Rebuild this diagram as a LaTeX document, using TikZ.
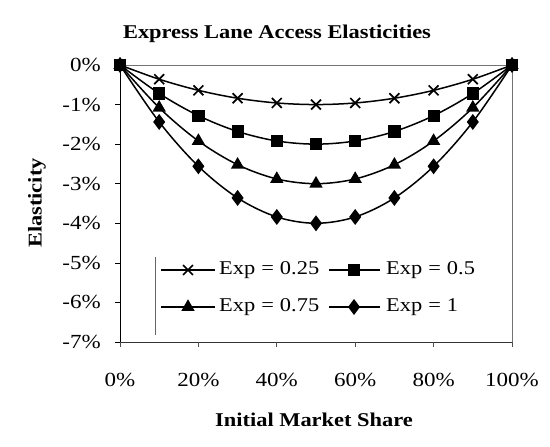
\documentclass[tikz,border=0pt]{standalone}
\usepackage{fontspec}
\setmainfont{Liberation Serif}[FakeStretch=1.15]
\usetikzlibrary{plotmarks}
\tikzset{
  series/.style={line width=1.5pt, black, smooth, tension=0.55, mark options={solid, line width=1.2pt}},
  xmark/.style={mark=x, mark size=7pt, mark options={solid, line width=1.7pt}},
  legline/.style={line width=1.5pt, black},
  ticklab/.style={font=\fontsize{20}{22}\selectfont, inner sep=0pt},
  axtitle/.style={font=\bfseries\fontsize{19.5}{22}\selectfont, inner sep=0pt},
  framegray/.style={black!55, line width=0.8pt, dash pattern=on 1.5pt off 0.5pt},
  legtext/.style={font=\fontsize{19.5}{22}\selectfont, inner sep=0pt, anchor=west}
}
\newcommand{\lsp}{\hspace{6pt}}
\begin{document}
\begin{tikzpicture}[x=1pt, y=-1pt]
\useasboundingbox (0,0) rectangle (550,447);
% frame
\draw[framegray] (120,65) -- (512,65) -- (512,342);
\draw[black!80, line width=0.9pt] (120,342) -- (512,342);
\draw[black, line width=1pt] (120,65) -- (120,342);
\foreach \k in {0,...,7} {
  \draw[black, line width=0.7pt] (115,{65+39.57*\k}) -- (120,{65+39.57*\k});
  \node[ticklab, anchor=east] (yl\k) at (101,{65+39.57*\k}) {\ifnum\k=0 0\%\else -\k\%\fi};
}
\foreach \k in {0,...,5} {
  \draw[black!70, line width=0.7pt] ({120+78.4*\k},342) -- ({120+78.4*\k},347);
  \pgfmathtruncatemacro{\pc}{20*\k}
  \node[ticklab] (xl\k) at ({120+78.4*\k},380) {\pc\%};
}
% titles
\node[axtitle] (title) at (277,34) {Express Lane Access Elasticities};
\node[axtitle] (xtitle) at (314,420) {Initial Market Share};
\node[axtitle, rotate=90] (ytitle) at (37,203) {Elasticity};
% series
\draw[series, xmark] plot[samples at={0,...,10}] ({120+39.2*\x}, {65+633.1*0.25*(\x/10)*(1-\x/10)});
\draw[series, mark=square*, mark size=5.5pt] plot[samples at={0,...,10}] ({120+39.2*\x}, {65+633.1*0.5*(\x/10)*(1-\x/10)});
\draw[series, mark=triangle*, mark size=6.5pt] plot[samples at={0,...,10}] ({120+39.2*\x}, {65+633.1*0.75*(\x/10)*(1-\x/10)});
\draw[series, mark=diamond*, mark size=7pt] plot[samples at={0,...,10}] ({120+39.2*\x}, {65+633.1*1*(\x/10)*(1-\x/10)});
% legend
\draw[black!60, line width=0.6pt] (155,257) -- (155,335);
\coordinate (a1) at (161,270); \coordinate (b1) at (215,270);
\coordinate (a2) at (329,270); \coordinate (b2) at (380,270);
\coordinate (a3) at (161,307); \coordinate (b3) at (215,307);
\coordinate (a4) at (329,307); \coordinate (b4) at (380,307);
\draw[legline] (a1) -- (b1);
\draw[legline] (a2) -- (b2);
\draw[legline] (a3) -- (b3);
\draw[legline] (a4) -- (b4);
\draw[series, only marks, xmark] plot coordinates {(188,270)};
\draw[series, only marks, mark=square*, mark size=5.5pt] plot coordinates {(354,270)};
\draw[series, only marks, mark=triangle*, mark size=6.5pt] plot coordinates {(188,307)};
\draw[series, only marks, mark=diamond*, mark size=7pt] plot coordinates {(354,307)};
\node[legtext] (l1) at (219,270) {Exp\lsp=\lsp0.25};
\node[legtext] (l2) at (386,270) {Exp\lsp=\lsp0.5};
\node[legtext] (l3) at (219,307) {Exp\lsp=\lsp0.75};
\node[legtext] (l4) at (386,307) {Exp\lsp=\lsp1};
\end{tikzpicture}
\end{document}
